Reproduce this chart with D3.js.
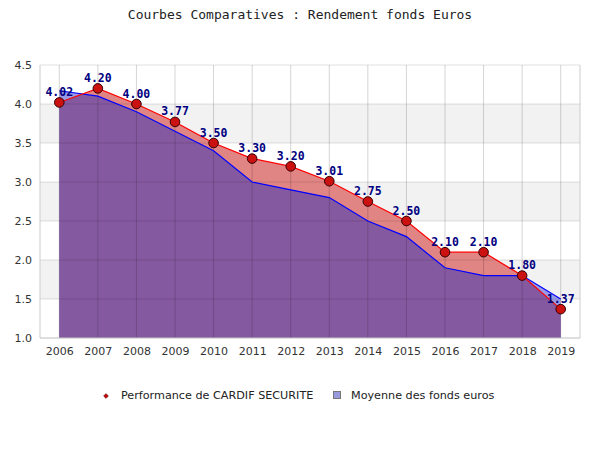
<!DOCTYPE html>
<html>
<head>
<meta charset="utf-8">
<script src="https://cdn.jsdelivr.net/npm/d3@7"></script>
<style>
  body { margin: 0; background: #fff; }
  .axis text { font-family: "DejaVu Sans", sans-serif; font-size: 11px; fill: #333; }
</style>
</head>
<body>
<div class="graph"></div>
<script>
var years = ["2006", "2007", "2008", "2009", "2010", "2011", "2012", "2013", "2014", "2015", "2016", "2017", "2018", "2019"];
var cardif = [4.02, 4.20, 4.00, 3.77, 3.50, 3.30, 3.20, 3.01, 2.75, 2.50, 2.10, 2.10, 1.80, 1.37];
var moyenne = [4.17, 4.10, 3.90, 3.65, 3.40, 3.00, 2.90, 2.80, 2.50, 2.30, 1.90, 1.80, 1.80, 1.50];
var yTicks = [1.0, 1.5, 2.0, 2.5, 3.0, 3.5, 4.0, 4.5];

var width = 600;
var height = 450;
// plot box (not "top": that name is taken by window.top)
var plotLeft = 40, plotRight = 580, plotTop = 65, plotBottom = 338;

var svg = d3.select(".graph").append("svg")
  .attr("width", width)
  .attr("height", height);

var x = d3.scalePoint()
  .domain(years)
  .range([plotLeft, plotRight])
  .padding(0.5);

var y = d3.scaleLinear()
  .domain([1, 4.5])
  .range([plotBottom, plotTop]);

// title
svg.append("text")
  .attr("x", 300)
  .attr("y", 19)
  .attr("text-anchor", "middle")
  .style("font-family", "'DejaVu Sans Mono', monospace")
  .style("font-size", "13px")
  .attr("fill", "#222")
  .text("Courbes Comparatives : Rendement fonds Euros");

// alternating bands
svg.selectAll("rect.band")
  .data(yTicks.filter(function (t, i) { return i % 2 == 1 && t < 4.5; }))
  .enter().append("rect")
  .attr("class", "band")
  .attr("x", plotLeft)
  .attr("width", plotRight - plotLeft)
  .attr("y", function (t) { return y(t + 0.5); })
  .attr("height", function (t) { return y(t) - y(t + 0.5); })
  .attr("fill", "#f2f2f2");

var areaOf = function (vals) {
  return d3.area()
    .x(function (d, i) { return x(years[i]); })
    .y0(y(1))
    .y1(function (d) { return y(d); })(vals);
};
var lineOf = function (vals) {
  return d3.line()
    .x(function (d, i) { return x(years[i]); })
    .y(function (d) { return y(d); })(vals);
};

svg.append("clipPath").attr("id", "redclip")
  .append("path").attr("d", areaOf(cardif));

svg.append("path").attr("d", areaOf(cardif)).attr("fill", "#e08484");
svg.append("path").attr("d", areaOf(moyenne)).attr("fill", "#9a9ae6");
svg.append("path").attr("d", areaOf(moyenne))
  .attr("clip-path", "url(#redclip)")
  .attr("fill", "#8559a0");

// grid
svg.selectAll("line.vgrid")
  .data(years)
  .enter().append("line")
  .attr("x1", function (d) { return x(d); })
  .attr("x2", function (d) { return x(d); })
  .attr("y1", plotTop)
  .attr("y2", plotBottom)
  .attr("stroke", "#000")
  .attr("stroke-opacity", 0.17);

svg.selectAll("line.hgrid")
  .data(yTicks)
  .enter().append("line")
  .attr("x1", plotLeft)
  .attr("x2", plotRight)
  .attr("y1", function (d) { return y(d); })
  .attr("y2", function (d) { return y(d); })
  .attr("stroke", "#000")
  .attr("stroke-opacity", 0.12);

// frame
svg.append("path")
  .attr("d", "M" + plotLeft + "," + plotTop + "V" + plotBottom + "H" + plotRight + "V" + plotTop)
  .attr("fill", "none")
  .attr("stroke", "#ccc");

// lines
svg.append("path").attr("d", lineOf(moyenne))
  .attr("fill", "none").attr("stroke", "#0000ff").attr("stroke-width", 1.2);
svg.append("path").attr("d", lineOf(cardif))
  .attr("fill", "none").attr("stroke", "#ff0000").attr("stroke-width", 1.2);

// markers
svg.selectAll("circle.pt")
  .data(cardif)
  .enter().append("circle")
  .attr("cx", function (d, i) { return x(years[i]); })
  .attr("cy", function (d) { return y(d); })
  .attr("r", 4.8)
  .attr("fill", "#cc1111")
  .attr("stroke", "#330000")
  .attr("stroke-width", 1);

// value labels
svg.selectAll("text.val")
  .data(cardif)
  .enter().append("text")
  .attr("x", function (d, i) { return x(years[i]); })
  .attr("y", function (d) { return y(d) - 6.5; })
  .attr("text-anchor", "middle")
  .style("font-family", "'DejaVu Sans Mono', monospace")
  .style("font-size", "11.5px")
  .style("font-weight", "bold")
  .attr("fill", "#000080")
  .text(function (d) { return d.toFixed(2); });

// axes
var yAxis = d3.axisLeft(y).tickValues(yTicks).tickSize(0).tickPadding(8)
  .tickFormat(d3.format(".1f"));
var yg = svg.append("g").attr("class", "axis")
  .attr("transform", "translate(" + plotLeft + ",0)");
yAxis(yg);
yg.select(".domain").remove();

var xAxis = d3.axisBottom(x).tickSize(0).tickPadding(9);
var xg = svg.append("g").attr("class", "axis")
  .attr("transform", "translate(0," + plotBottom + ")");
xAxis(xg);
xg.select(".domain").remove();

// legend
svg.append("path")
  .attr("d", d3.symbol().type(d3.symbolSquare).size(11)())
  .attr("transform", "translate(106,396) rotate(45)")
  .attr("fill", "#cc0000")
  .attr("stroke", "#550000")
  .attr("stroke-width", 0.6);
svg.append("text")
  .attr("x", 121).attr("y", 399)
  .style("font-family", "'DejaVu Sans', sans-serif")
  .style("font-size", "11.2px")
  .attr("fill", "#222")
  .text("Performance de CARDIF SECURITE");

svg.append("rect")
  .attr("x", 333.5).attr("y", 391.5)
  .attr("width", 7).attr("height", 7)
  .attr("fill", "#9999dd")
  .attr("stroke", "#777");
svg.append("text")
  .attr("x", 351).attr("y", 399)
  .style("font-family", "'DejaVu Sans', sans-serif")
  .style("font-size", "11.2px")
  .attr("fill", "#222")
  .text("Moyenne des fonds euros");
</script>
</body>
</html>
